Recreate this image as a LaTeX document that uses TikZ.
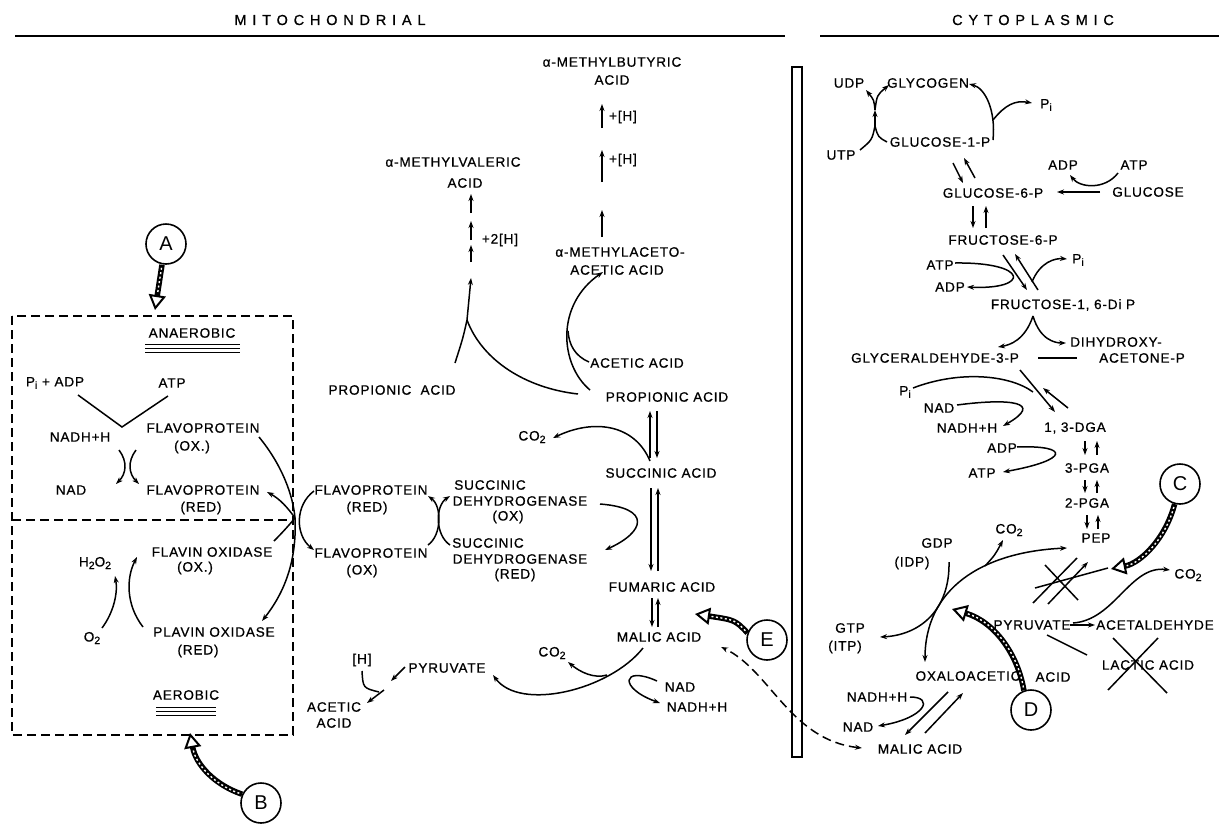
\documentclass[tikz,border=0pt]{standalone}
\usepackage{fontspec}
\setmainfont{Liberation Sans}
\newfontfamily\lf{Liberation Sans}[LetterSpace=6,FakeBold=0.7]
\newfontfamily\hf{Liberation Sans}[LetterSpace=40,FakeBold=0.9]
\usetikzlibrary{arrows.meta}
\newcommand{\mysub}[1]{\raisebox{-0.35ex}{\fontsize{10.5}{10.5}\selectfont #1}}
\begin{document}
\begin{tikzpicture}[x=1pt,y=-1pt,
  lb/.style={inner sep=0.5pt, font=\fontsize{13.6}{14}\selectfont\lf},
  ln/.style={line width=1.5pt},
  ar/.style={line width=1.5pt,-{Stealth[length=7pt,width=5pt]}},
  dbox/.style={line width=1.6pt, dash pattern=on 9pt off 5pt},
  circ/.style={circle, draw, line width=1.6pt, minimum size=40pt, inner sep=0pt, font=\fontsize{20}{20}\selectfont},
  mk/.style={line width=5.5pt, -{Triangle[open,length=15pt,width=17pt,line width=2pt]}},
  mkt/.style={white, line width=1.4pt, dash pattern=on 2pt off 2.5pt, shorten >=16pt, shorten <=3pt},
]
\useasboundingbox (0,0) rectangle (1219,825);
\fill[white] (0,0) rectangle (1219,825);
% header
\node[inner sep=0pt, font=\fontsize{14.5}{14.5}\selectfont\hf] (hmito) at (330,20) {MITOCHONDRIAL};
\node[inner sep=0pt, font=\fontsize{14.5}{14.5}\selectfont\hf] (hcyto) at (1033,20) {CYTOPLASMIC};
\coordinate (hl1) at (15,36); \coordinate (hl2) at (785,36);
\coordinate (hl3) at (820,36); \coordinate (hl4) at (1219,36);
\draw[line width=2.2pt] (hl1) -- (hl2);
\draw[line width=2.2pt] (hl3) -- (hl4);
% left box
\coordinate (bx1) at (12,316); \coordinate (bx2) at (293,735);
\coordinate (bm1) at (12,520); \coordinate (bm2) at (293,520);
\draw[dbox] (bx1) rectangle (bx2);
\draw[dbox] (bm1) -- (bm2);
\node[lb] (anaer) at (192,333) {ANAEROBIC};
\foreach \yy in {344,348,352} \draw[line width=1pt] (145,\yy) -- (240,\yy);
\node[lb] (piadp) at (55,383) {P\mysub{i} + ADP};
\node[lb] (atpL) at (172,383) {ATP};
\node[lb] (nadhL) at (80,437) {NADH+H};
\node[lb] (fpoxL) at (203,428) {FLAVOPROTEIN};
\node[lb] (fpoxLb) at (192,447) {(OX.)};
\node[lb] (nadL) at (71,490) {NAD};
\node[lb] (fpredL) at (203,490) {FLAVOPROTEIN};
\node[lb] (fpredLb) at (201,508) {(RED)};
\node[lb] (h2o2) at (95,563) {H\mysub{2}O\mysub{2}};
\node[lb] (o2) at (92,638) {O\mysub{2}};
\node[lb] (foox) at (212,552) {FLAVIN OXIDASE};
\node[lb] (fooxb) at (195,568) {(OX.)};
\node[lb] (fored) at (214,632) {PLAVIN OXIDASE};
\node[lb] (foredb) at (198,651) {(RED)};
\node[lb] (aer) at (186,695) {AEROBIC};
\foreach \yy in {707,711,715} \draw[line width=1pt] (156,\yy) -- (216,\yy);
\coordinate (v1) at (78,395); \coordinate (v2) at (122,427); \coordinate (v3) at (168,396);
\draw[ln] (v1) -- (v2) -- (v3);
\coordinate (c1a) at (119,450); \coordinate (c1b) at (116,484);
\coordinate (c2a) at (136,450); \coordinate (c2b) at (139,484);
\draw[ar] (c1a) .. controls (128,462) and (126,474) .. (c1b);
\draw[ar] (c2a) .. controls (127,462) and (129,474) .. (c2b);
\coordinate (oa) at (102,628); \coordinate (ob) at (115,576);
\draw[ar] (oa) .. controls (114,612) and (118,592) .. (ob);
\coordinate (fa) at (143,627); \coordinate (fb) at (137,557);
\draw[ar] (fa) .. controls (126,605) and (126,578) .. (fb);
% junction
\coordinate (J) at (295,518);
\coordinate (j1) at (259,437); \coordinate (j2) at (267,492);
\coordinate (j3) at (274,541); \coordinate (j4) at (262,621);
\draw[ln] (j1) .. controls (282,465) and (293,495) .. (J);
\draw[ar] (J) .. controls (288,508) and (280,499) .. (j2);
\draw[ln] (j3) .. controls (283,532) and (290,524) .. (J);
\draw[ar] (J) .. controls (297,560) and (285,592) .. (j4);
\coordinate (m1) at (314,491); \coordinate (m2) at (314,550);
\draw[ar] (m1) .. controls (295,505) and (295,535) .. (m2);
% middle labels
\node[lb] (mval) at (453,162) {α-METHYLVALERIC};
\node[lb] (mvalb) at (465,183) {ACID};
\node[lb] (h2) at (500,240) {+2[H]};
\node[lb] (propL) at (392,390) {PROPIONIC\ \ ACID};
\node[lb] (mbut) at (612,62) {α-METHYLBUTYRIC};
\node[lb] (mbutb) at (612,80) {ACID};
\node[lb] (hA) at (623,117) {+[H]};
\node[lb] (hB) at (623,160) {+[H]};
\node[lb] (mace) at (620,252) {α-METHYLACETO-};
\node[lb] (maceb) at (617,270) {ACETIC ACID};
\node[lb] (acet) at (637,363) {ACETIC ACID};
\node[lb] (propR) at (667,397) {PROPIONIC ACID};
\node[lb] (co2a) at (532,437) {CO\mysub{2}};
\node[lb] (succ) at (661,473) {SUCCINIC ACID};
\node[lb] (fpredM) at (371,490) {FLAVOPROTEIN};
\node[lb] (fpredMb) at (367,508) {(RED)};
\node[lb] (fpoxM) at (371,553) {FLAVOPROTEIN};
\node[lb] (fpoxMb) at (362,571) {(OX)};
\node[lb] (sdox1) at (490,485) {SUCCINIC};
\node[lb] (sdox2) at (520,501) {DEHYDROGENASE};
\node[lb] (sdox3) at (508,517) {(OX)};
\node[lb] (sdred1) at (488,543) {SUCCINIC};
\node[lb] (sdred2) at (520,559) {DEHYDROGENASE};
\node[lb] (sdred3) at (515,575) {(RED)};
\node[lb] (fum) at (662,587) {FUMARIC ACID};
\node[lb] (mal) at (659,637) {MALIC ACID};
\node[lb] (co2b) at (552,653) {CO\mysub{2}};
\node[lb] (nadM) at (680,687) {NAD};
\node[lb] (nadhM) at (697,707) {NADH+H};
\node[lb] (pyrM) at (447,668) {PYRUVATE};
\node[lb] (hM) at (362,660) {[H]};
\node[lb] (acetB) at (334,707) {ACETIC};
\node[lb] (acetBb) at (334,723) {ACID};
% middle connectors
\coordinate (x1) at (428,545); \coordinate (x2) at (428,496);
\coordinate (x3) at (450,545); \coordinate (x4) at (450,496);
\draw[ar] (x1) .. controls (442,535) and (442,506) .. (x2);
\draw[ar] (x3) .. controls (435,535) and (435,506) .. (x4);
\coordinate (sd1) at (600,504); \coordinate (sd2) at (605,550);
\draw[ar] (sd1) .. controls (652,508) and (645,532) .. (sd2);
\coordinate (mv0) at (467,320); \coordinate (mv1) at (471,278);
\coordinate (mv2) at (471,262); \coordinate (mv3) at (471,245);
\coordinate (mv4) at (471,240); \coordinate (mv5) at (471,221);
\coordinate (mv6) at (471,213); \coordinate (mv7) at (471,194);
\draw[ar] (mv0) -- (mv1); \draw[ar] (mv2) -- (mv3);
\draw[ar] (mv4) -- (mv5); \draw[ar] (mv6) -- (mv7);
\coordinate (pl) at (455,363); \coordinate (pr) at (578,394);
\draw[ln] (mv0) .. controls (463,338) .. (pl);
\draw[ln] (mv0) .. controls (482,360) and (525,388) .. (pr);
\coordinate (mb0) at (602,237); \coordinate (mb1) at (602,210);
\coordinate (mb2) at (602,182); \coordinate (mb3) at (602,150);
\coordinate (mb4) at (602,128); \coordinate (mb5) at (602,104);
\draw[ar] (mb0) -- (mb1); \draw[ar] (mb2) -- (mb3); \draw[ar] (mb4) -- (mb5);
\coordinate (pc1) at (590,390); \coordinate (pc2) at (603,272);
\coordinate (ac1) at (589,362); \coordinate (ac2) at (568,331);
\draw[ar] (pc1) .. controls (560,365) and (555,305) .. (pc2);
\draw[ln] (ac1) .. controls (575,356) and (569,345) .. (ac2);
\coordinate (ps1) at (650,458); \coordinate (ps2) at (650,411);
\coordinate (ps3) at (657,411); \coordinate (ps4) at (657,458);
\draw[ar] (ps1) -- (ps2); \draw[ar] (ps3) -- (ps4);
\coordinate (sc) at (650,461); \coordinate (sco) at (553,438);
\draw[ar] (sc) .. controls (635,425) and (595,418) .. (sco);
\coordinate (sf1) at (651,488); \coordinate (sf2) at (651,571);
\coordinate (sf3) at (658,571); \coordinate (sf4) at (658,488);
\draw[ar] (sf1) -- (sf2); \draw[ar] (sf3) -- (sf4);
\coordinate (fm1) at (652,598); \coordinate (fm2) at (652,627);
\coordinate (fm3) at (658,627); \coordinate (fm4) at (658,598);
\draw[ar] (fm1) -- (fm2); \draw[ar] (fm3) -- (fm4);
\coordinate (mp1) at (643,648); \coordinate (mp2) at (493,675);
\draw[ar] (mp1) .. controls (610,690) and (520,712) .. (mp2);
\coordinate (cb1) at (607,675); \coordinate (cb2) at (568,662);
\draw[ar] (cb1) .. controls (594,679) and (580,672) .. (cb2);
\coordinate (nl1) at (657,681); \coordinate (nl2) at (660,703);
\draw[ar] (nl1) .. controls (622,665) and (618,688) .. (nl2);
\coordinate (pa1) at (405,667); \coordinate (pa2) at (391,681);
\coordinate (pa3) at (384,690); \coordinate (pa4) at (367,703);
\coordinate (hh1) at (362,671); \coordinate (hh2) at (379,692);
\draw[ar] (pa1) -- (pa2); \draw[ar] (pa3) -- (pa4);
\draw[ln] (hh1) .. controls (363,688) .. (hh2);
% membrane
\coordinate (mb1r) at (792,67); \coordinate (mb2r) at (802,757);
\draw[line width=1.5pt] (mb1r) rectangle (mb2r);
\coordinate (dm1) at (862,748); \coordinate (dm2) at (721,647);
\draw[line width=1.5pt, dash pattern=on 9pt off 5pt, {Stealth[length=7pt,width=5pt]}-{Stealth[length=7pt,width=5pt]}] (dm1) .. controls (790,740) and (770,670) .. (dm2);
% right labels
\node[lb] (udp) at (849,83) {UDP};
\node[lb] (glycogen) at (928,83) {GLYCOGEN};
\node[lb] (pi1) at (1046,105) {P\mysub{i}};
\node[lb] (utp) at (841,155) {UTP};
\node[lb] (g1p) at (940,142) {GLUCOSE-1-P};
\node[lb] (adp1) at (1063,165) {ADP};
\node[lb] (atp1) at (1134,165) {ATP};
\node[lb] (g6p) at (993,193) {GLUCOSE-6-P};
\node[lb] (glc) at (1148,192) {GLUCOSE};
\node[lb] (f6p) at (1003,240) {FRUCTOSE-6-P};
\node[lb] (atp2) at (940,265) {ATP};
\node[lb] (adp2) at (950,287) {ADP};
\node[lb] (pi2) at (1078,260) {P\mysub{i}};
\node[lb] (fdp) at (1063,305) {FRUCTOSE-1, 6-Di P};
\node[lb] (dhap) at (1116,342) {DIHYDROXY-};
\node[lb] (dhapb) at (1142,358) {ACETONE-P};
\node[lb] (g3p) at (935,358) {GLYCERALDEHYDE-3-P};
\node[lb] (pi3) at (905,392) {P\mysub{i}};
\node[lb] (nad3) at (939,408) {NAD};
\node[lb] (nadh3) at (967,428) {NADH+H};
\node[lb] (dga) at (1075,428) {1, 3-DGA};
\node[lb] (adp3) at (1002,448) {ADP};
\node[lb] (atp3) at (982,473) {ATP};
\node[lb] (pga3) at (1087,468) {3-PGA};
\node[lb] (pga2) at (1087,503) {2-PGA};
\node[lb] (pep) at (1096,538) {PEP};
\node[lb] (gdp) at (937,543) {GDP};
\node[lb] (gdpb) at (912,563) {(IDP)};
\node[lb] (co2c) at (1009,530) {CO\mysub{2}};
\node[lb] (gtp) at (850,628) {GTP};
\node[lb] (gtpb) at (845,647) {(ITP)};
\node[lb] (co2d) at (1188,575) {CO\mysub{2}};
\node[lb] (pyrR) at (1032,625) {PYRUVATE};
\node[lb] (acald) at (1155,625) {ACETALDEHYDE};
\node[lb] (lac) at (1148,665) {LACTIC ACID};
\node[lb] (oaa) at (968,676) {OXALOACETIC};
\node[lb] (oaab) at (1053,677) {ACID};
\node[lb] (nadhC) at (877,697) {NADH+H};
\node[lb] (nadC) at (858,727) {NAD};
\node[lb] (malC) at (920,749) {MALIC ACID};
% right connectors
\coordinate (jg1) at (875,110); \coordinate (jg2) at (875,126);
\coordinate (jud) at (866,90); \coordinate (jgl) at (889,85);
\coordinate (jut) at (860,150); \coordinate (jg1p) at (887,142);
\draw[ar] (jg1) .. controls (874,100) .. (jud);
\draw[ar] (jg1) .. controls (877,95) .. (jgl);
\draw[ar] (jg2) -- (jg1);
\draw[ln] (jut) .. controls (872,140) .. (jg2);
\draw[ln] (jg1p) .. controls (878,137) .. (jg2);
\coordinate (gy1) at (993,140); \coordinate (gy2) at (969,84);
\coordinate (gp1) at (993,120); \coordinate (gp2) at (1032,103);
\draw[ar] (gy1) .. controls (996,110) and (985,88) .. (gy2);
\draw[ar] (gp1) .. controls (1005,105) and (1015,100) .. (gp2);
\coordinate (g16a) at (953,163); \coordinate (g16b) at (963,183);
\coordinate (g16c) at (975,178); \coordinate (g16d) at (964,158);
\draw[ar] (g16a) -- (g16b); \draw[ar] (g16c) -- (g16d);
\coordinate (gl1) at (1100,192); \coordinate (gl2) at (1057,192);
\draw[ar] (gl1) -- (gl2);
\coordinate (aa1) at (1118,173); \coordinate (aa2) at (1070,175);
\draw[ar] (aa1) .. controls (1105,190) and (1080,188) .. (aa2);
\coordinate (gf1) at (973,206); \coordinate (gf2) at (973,228);
\coordinate (gf3) at (986,228); \coordinate (gf4) at (986,206);
\draw[ar] (gf1) -- (gf2); \draw[ar] (gf3) -- (gf4);
\coordinate (al1) at (955,263); \coordinate (al2) at (967,287);
\draw[ar] (al1) .. controls (1030,262) and (1030,290) .. (al2);
\coordinate (ff1) at (1003,255); \coordinate (ff2) at (1027,290);
\coordinate (ff3) at (1038,290); \coordinate (ff4) at (1015,254);
\draw[ar] (ff1) -- (ff2); \draw[ar] (ff3) -- (ff4);
\coordinate (fp1) at (1032,282); \coordinate (fp2) at (1067,259);
\draw[ar] (fp1) .. controls (1040,262) and (1055,258) .. (fp2);
\coordinate (sp0) at (1033,316); \coordinate (sp1) at (998,347); \coordinate (sp2) at (1066,343);
\draw[ar] (sp0) .. controls (1025,340) and (1010,345) .. (sp1);
\draw[ar] (sp0) .. controls (1040,340) and (1055,343) .. (sp2);
\coordinate (gd1) at (1038,358); \coordinate (gd2) at (1077,358);
\draw[ln] (gd1) -- (gd2);
\coordinate (gg1) at (1020,370); \coordinate (gg2) at (1055,412);
\coordinate (gg3) at (1068,408); \coordinate (gg4) at (1043,388);
\draw[ar] (gg1) -- (gg2); \draw[ar] (gg3) -- (gg4);
\coordinate (pp1) at (913,388); \coordinate (pp2) at (1033,392);
\draw[ln] (pp1) .. controls (960,370) and (1010,375) .. (pp2);
\coordinate (nn1) at (957,405); \coordinate (nn2) at (1003,426);
\draw[ar] (nn1) .. controls (1010,398) and (1045,402) .. (nn2);
\coordinate (d31) at (1085,441); \coordinate (d32) at (1085,455);
\coordinate (d33) at (1097,455); \coordinate (d34) at (1097,441);
\draw[ar] (d31) -- (d32); \draw[ar] (d33) -- (d34);
\coordinate (at1) at (1017,447); \coordinate (at2) at (1003,472);
\draw[ar] (at1) .. controls (1070,445) and (1070,460) .. (at2);
\coordinate (p31) at (1085,480); \coordinate (p32) at (1085,493);
\coordinate (p33) at (1097,493); \coordinate (p34) at (1097,480);
\draw[ar] (p31) -- (p32); \draw[ar] (p33) -- (p34);
\coordinate (p21) at (1087,515); \coordinate (p22) at (1087,529);
\coordinate (p23) at (1098,529); \coordinate (p24) at (1098,515);
\draw[ar] (p21) -- (p22); \draw[ar] (p23) -- (p24);
\coordinate (po1) at (1067,548); \coordinate (po2) at (925,662);
\draw[line width=1.5pt,{Stealth[length=7pt,width=5pt]}-{Stealth[length=7pt,width=5pt]}] (po1) .. controls (980,552) and (925,590) .. (po2);
\coordinate (cc1) at (985,566); \coordinate (cc2) at (1003,540);
\draw[ar] (cc1) .. controls (995,555) .. (cc2);
\coordinate (gt1) at (949,562); \coordinate (gt2) at (880,637);
\draw[ar] (gt1) .. controls (950,610) and (920,635) .. (gt2);
\coordinate (pk1) at (1077,558); \coordinate (pk2) at (1033,603);
\coordinate (pk3) at (1048,604); \coordinate (pk4) at (1088,562);
\draw[ln] (pk1) -- (pk2); \draw[ar] (pk3) -- (pk4);
\coordinate (xk1) at (1045,565); \coordinate (xk2) at (1078,600);
\coordinate (xk3) at (1108,568); \coordinate (xk4) at (1035,588);
\draw[ln] (xk1) -- (xk2); \draw[ln] (xk3) -- (xk4);
\coordinate (cd1) at (1073,623); \coordinate (cd2) at (1170,570);
\draw[ar] (cd1) .. controls (1115,620) and (1130,565) .. (cd2);
\coordinate (pq1) at (1070,625); \coordinate (pq2) at (1095,625);
\draw[ar] (pq1) -- (pq2);
\coordinate (pl1) at (1047,635); \coordinate (pl2) at (1087,655);
\draw[ln] (pl1) -- (pl2);
\coordinate (lx1) at (1113,638); \coordinate (lx2) at (1167,693);
\coordinate (lx3) at (1158,638); \coordinate (lx4) at (1108,690);
\draw[ln] (lx1) -- (lx2); \draw[ln] (lx3) -- (lx4);
\coordinate (nc1) at (910,697); \coordinate (nc2) at (878,726);
\draw[ar] (nc1) .. controls (935,697) and (925,718) .. (nc2);
\coordinate (om1) at (948,692); \coordinate (om2) at (905,735);
\coordinate (om3) at (925,733); \coordinate (om4) at (963,693);
\draw[ar] (om1) -- (om2); \draw[ar] (om3) -- (om4);
% marker circles and arrows
\node[circ] (cA) at (166,244) {A};
\node[circ] (cB) at (261,803) {B};
\node[circ] (cC) at (1180,484) {C};
\node[circ] (cD) at (1031,710) {D};
\node[circ] (cE) at (767,640) {E};
\coordinate (tA) at (155,310); \coordinate (tB) at (190,733);
\coordinate (tC) at (1111,569); \coordinate (tD) at (952,609); \coordinate (tE) at (695,614);
\draw[mk] ([xshift=-4pt]cA.south) -- (tA);
\draw[mkt] ([xshift=-4pt]cA.south) -- (tA);
\draw[mk] (cB.155) .. controls (215,785) and (196,765) .. (tB);
\draw[mkt] (cB.155) .. controls (215,785) and (196,765) .. (tB);
\draw[mk] (cC.255) .. controls (1165,540) and (1140,563) .. (tC);
\draw[mkt] (cC.255) .. controls (1165,540) and (1140,563) .. (tC);
\draw[mk] (cD.110) .. controls (1018,655) and (995,622) .. (tD);
\draw[mkt] (cD.110) .. controls (1018,655) and (995,622) .. (tD);
\draw[mk] (cE.160) .. controls (735,620) .. (tE);
\draw[mkt] (cE.160) .. controls (735,620) .. (tE);
\end{tikzpicture}
\end{document}
